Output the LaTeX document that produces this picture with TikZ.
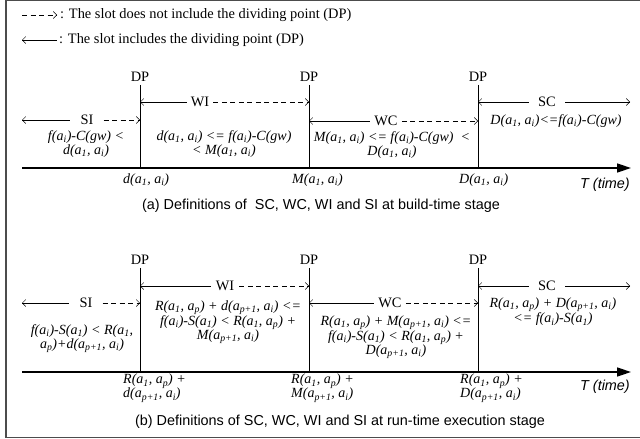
\documentclass[tikz,border=0pt]{standalone}
\usepackage{fontspec}
\setmainfont{Liberation Serif}
\setsansfont{Liberation Sans}
\usetikzlibrary{arrows.meta}
\newcommand{\ix}[1]{\textsubscript{#1}}
\begin{document}
\begin{tikzpicture}[x=1pt,y=-1pt,
  txt/.style={font=\fontsize{14.4}{15}\selectfont, inner sep=0pt},
  cond/.style={font=\fontsize{14}{14}\selectfont\itshape, align=center, inner sep=0pt},
  slot/.style={font=\fontsize{14.4}{15}\selectfont, inner ysep=0pt, inner xsep=#1},
  slot/.default=5pt,
  capn/.style={font=\sffamily\fontsize{14.4}{15}\selectfont, inner sep=0pt},
  timelbl/.style={font=\sffamily\itshape\fontsize{14.4}{15}\selectfont, inner sep=0pt},
  barb/.tip={Straight Barb[length=3.5pt,width=7pt]},
  excl/.style={dash pattern=on 5pt off 3.5pt, -barb},
  incl/.style={barb-},
  ends/.style={-barb},
  axis/.style={line width=1.6pt, -{Triangle[length=14pt,width=9pt]}}]
  \useasboundingbox (0,0) rectangle (640,439);
  % Frame
  \draw[line width=1.2pt, black!70] (640,0.6) -- (6,0.6) -- (6,437.4) -- (640,437.4);
  % Legend
  \coordinate (lgA) at (22,15); \coordinate (lgB) at (57,15);
  \draw[excl] (lgA) -- (lgB);
  \node[txt, anchor=west] at (60,15) {: The slot does not include the dividing point (DP)};
  \coordinate (lgC) at (22,40); \coordinate (lgD) at (57,40);
  \draw[incl] (lgC) -- (lgD);
  \node[txt, anchor=west] at (59,40) {: The slot includes the dividing point (DP)};

  % (a) build-time stage
  \coordinate (axA) at (22,168); \coordinate (axAend) at (631,168);
  \draw[axis] (axA) -- (axAend);
  \node[txt] (dpA1) at (140,77) {DP};
  \node[txt] (dpA2) at (309,77) {DP};
  \node[txt] (dpA3) at (478,77) {DP};
  \foreach \d in {dpA1,dpA2,dpA3}
    \draw ([yshift=-3pt]\d.south) -- (\d |- axA);
  \node[slot=10pt] (siA) at (87,120) {SI};
  \node[slot=4pt] (wiA) at (200,102) {WI};
  \node[slot=4pt] (wcA) at (386,121) {WC};
  \node[slot=9pt] (scA) at (547,102) {SC};
  \coordinate (siAL) at (22,120); \coordinate (scAR) at (630,102);
  \draw[incl] (siAL) -- (siA.west);   \draw[excl] (siA.east) -- (siA -| dpA1);
  \draw[incl] (wiA -| dpA1) -- (wiA.west); \draw[excl] (wiA.east) -- (wiA -| dpA2);
  \draw[incl] (wcA -| dpA2) -- (wcA.west); \draw[excl] (wcA.east) -- (wcA -| dpA3);
  \draw[incl] (scA -| dpA3) -- (scA.west); \draw[ends] (scA.east) -- (scAR);
  \node[cond] at (86,144) {f(a\ix{i})-C(gw) <\\d(a\ix{1}, a\ix{i})};
  \node[cond] at (224,144) {d(a\ix{1}, a\ix{i}) <= f(a\ix{i})-C(gw)\\< M(a\ix{1}, a\ix{i})};
  \node[cond] at (392,145) {M(a\ix{1}, a\ix{i}) <= f(a\ix{i})-C(gw)~ <\\D(a\ix{1}, a\ix{i})};
  \node[cond] at (556,121) {D(a\ix{1}, a\ix{i})<=f(a\ix{i})-C(gw)};
  \node[cond, anchor=west] at (123,180) {d(a\ix{1}, a\ix{i})};
  \node[cond, anchor=west] at (292,180) {M(a\ix{1}, a\ix{i})};
  \node[cond, anchor=west] at (459,180) {D(a\ix{1}, a\ix{i})};
  \node[timelbl] at (605,185) {T (time)};
  \node[capn] at (321,206) {(a) Definitions of~ SC, WC, WI and SI at build-time stage};

  % (b) run-time execution stage
  \coordinate (axB) at (22,372); \coordinate (axBend) at (631,372);
  \draw[axis] (axB) -- (axBend);
  \node[txt] (dpB1) at (140,260) {DP};
  \node[txt] (dpB2) at (309,260) {DP};
  \node[txt] (dpB3) at (478,260) {DP};
  \foreach \d in {dpB1,dpB2,dpB3}
    \draw ([yshift=-3pt]\d.south) -- (\d |- axB);
  \node[slot=10pt] (siB) at (86,303) {SI};
  \node[slot=5pt] (wiB) at (225,286) {WI};
  \node[slot=4pt] (wcB) at (390,303) {WC};
  \node[slot=9pt] (scB) at (547,286) {SC};
  \coordinate (siBL) at (22,303); \coordinate (scBR) at (630,286);
  \draw[incl] (siBL) -- (siB.west);   \draw[excl] (siB.east) -- (siB -| dpB1);
  \draw[incl] (wiB -| dpB1) -- (wiB.west); \draw[excl] (wiB.east) -- (wiB -| dpB2);
  \draw[incl] (wcB -| dpB2) -- (wcB.west); \draw[excl] (wcB.east) -- (wcB -| dpB3);
  \draw[incl] (scB -| dpB3) -- (scB.west); \draw[ends] (scB.east) -- (scBR);
  \node[cond] at (82,339) {f(a\ix{i})-S(a\ix{1}) < R(a\ix{1},\\a\ix{p})+d(a\ix{p+1}, a\ix{i})};
  \node[cond] at (228,322) {R(a\ix{1}, a\ix{p}) + d(a\ix{p+1}, a\ix{i}) <=\\f(a\ix{i})-S(a\ix{1}) < R(a\ix{1}, a\ix{p}) +\\M(a\ix{p+1}, a\ix{i})};
  \node[cond] at (396,337) {R(a\ix{1}, a\ix{p}) + M(a\ix{p+1}, a\ix{i}) <=\\f(a\ix{i})-S(a\ix{1}) < R(a\ix{1}, a\ix{p}) +\\D(a\ix{p+1}, a\ix{i})};
  \node[cond] at (553,312) {R(a\ix{1}, a\ix{p}) + D(a\ix{p+1}, a\ix{i})\\<= f(a\ix{i})-S(a\ix{1})};
  \node[cond, anchor=north west, align=left] at (123,374) {R(a\ix{1}, a\ix{p}) +\\d(a\ix{p+1}, a\ix{i})};
  \node[cond, anchor=north west, align=left] at (291,374) {R(a\ix{1}, a\ix{p}) +\\M(a\ix{p+1}, a\ix{i})};
  \node[cond, anchor=north west, align=left] at (460,374) {R(a\ix{1}, a\ix{p}) +\\D(a\ix{p+1}, a\ix{i})};
  \node[timelbl] at (605,387) {T (time)};
  \node[capn] at (340,422) {(b) Definitions of SC, WC, WI and SI at run-time execution stage};
\end{tikzpicture}
\end{document}
